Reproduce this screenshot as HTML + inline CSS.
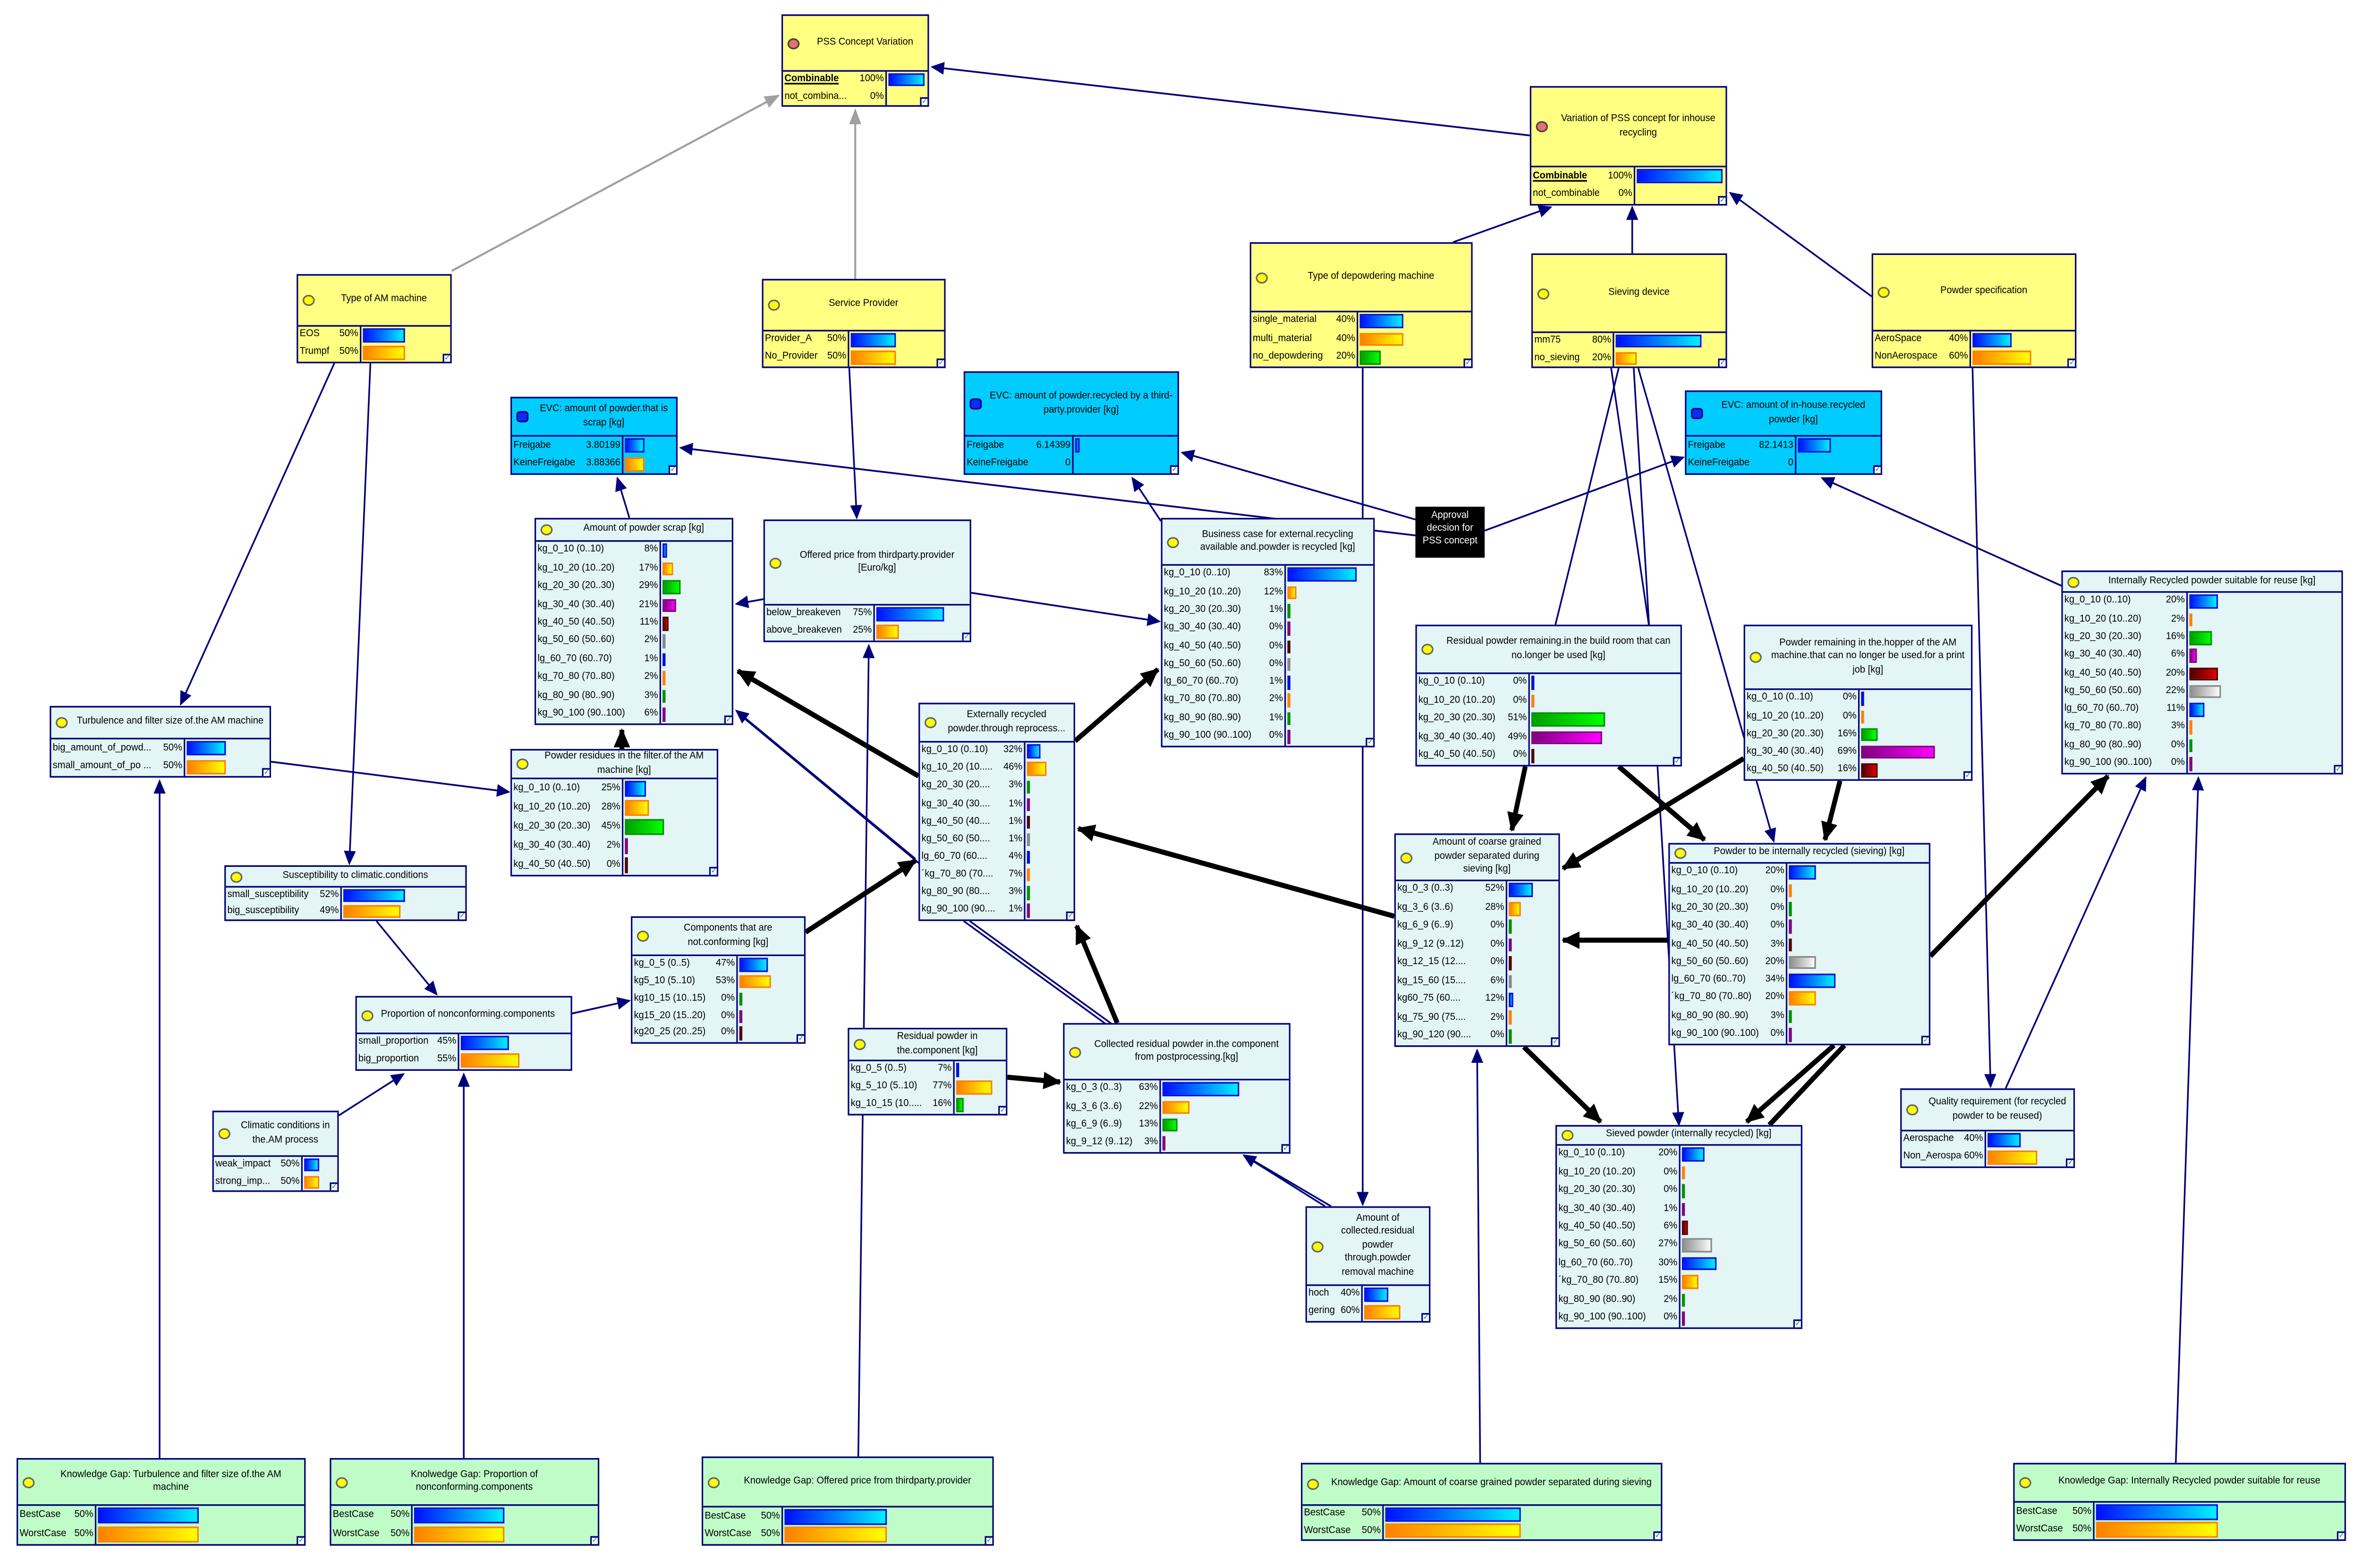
<!DOCTYPE html>
<html><head><meta charset="utf-8"><style>
html,body{margin:0;padding:0;background:#fff;width:100%;height:100%;overflow:hidden}
#s{position:absolute;left:0;top:0;width:100vw;height:100vh;display:block}
#w{position:relative;width:1568px;height:984px}
.n{position:absolute;box-sizing:border-box;border:1.2px solid #00007a;background:#e3f5f5;display:flex;flex-direction:column;font-family:"Liberation Sans",sans-serif;font-size:6.3px;color:#000;line-height:1.35}
.n.y{background:#ffff82}.n.c{background:#00ccff}.n.g{background:#c0fcc8}
.h{height:var(--h);flex:none;box-sizing:border-box;border-bottom:1.6px solid #00007a;display:flex;align-items:center;justify-content:center;text-align:center;padding:0 3px 0 16px;position:relative;overflow:hidden}
.h::before{content:"";position:absolute;left:3px;top:50%;margin-top:-3.5px;width:8px;height:7px;border-radius:50%;background:#ffff00;border:0.6px solid #666;box-sizing:border-box}
.h.r::before{background:#e87070;border-color:#444}
.h.x::before{background:#0a2cff;border-radius:30%;border-color:#00007a}
.b{flex:1;display:flex;flex-direction:column;position:relative}
.n p{margin:0;flex:1;display:flex;align-items:center;min-height:0}
.n p span{width:var(--d);flex:none;box-sizing:border-box;display:flex;justify-content:space-between;align-items:center;padding:0 1px 0 1px;white-space:nowrap;overflow:hidden;border-right:1.5px solid #00007a;height:100%}
.n p span i{font-style:normal;overflow:hidden}
.n p span b{font-weight:normal;padding-left:1px}
.n p em{flex:1;height:100%;display:flex;align-items:center;padding:0 2px 0 0.5px;box-sizing:border-box}
.n p em u{display:block;height:76%;min-width:1px;box-sizing:border-box;border:1px solid}
.c0{background:linear-gradient(90deg,#0010ff,#00f0ff);border-color:#0010e0!important}
.c1{background:linear-gradient(90deg,#ff8000,#ffff00);border-color:#ff8000!important}
.c2{background:linear-gradient(90deg,#00a000,#00ff00);border-color:#009000!important}
.c3{background:linear-gradient(90deg,#800080,#ff00ff);border-color:#800080!important}
.c4{background:linear-gradient(90deg,#500000,#e00000);border-color:#500000!important}
.c5{background:linear-gradient(90deg,#909090,#fafafa);border-color:#888!important}
.ck{position:absolute;right:-1px;bottom:-1px;width:6px;height:6px;background:#fff;border:0.8px solid #00007a;box-sizing:border-box;font-size:5px;line-height:5px;color:#088;text-align:center}
.ap{position:absolute;left:940px;top:318px;width:46px;height:32px;background:#000;color:#fff;font-family:"Liberation Sans",sans-serif;font-size:6.3px;text-align:center;line-height:1.3;padding-top:2px;box-sizing:border-box}
</style></head><body>
<svg id="s" viewBox="0 0 1568 984" preserveAspectRatio="none">
<defs>
<marker id="an" markerUnits="userSpaceOnUse" markerWidth="9" markerHeight="8" refX="8" refY="4" orient="auto"><path d="M0,0 L9,4 L0,8 z" fill="#00007a"/></marker>
<marker id="ag" markerUnits="userSpaceOnUse" markerWidth="10" markerHeight="8" refX="9" refY="4" orient="auto"><path d="M0,0 L10,4 L0,8 z" fill="#a0a0a0"/></marker>
<marker id="ab" markerUnits="userSpaceOnUse" markerWidth="12" markerHeight="11" refX="11" refY="5.5" orient="auto"><path d="M0,0 L12,5.5 L0,11 z" fill="#000"/></marker>
</defs>
<g stroke="#a0a0a0" stroke-width="1.3" fill="none">
<line x1="300" y1="170" x2="517" y2="60" marker-end="url(#ag)"/>
<line x1="568" y1="175" x2="568" y2="69" marker-end="url(#ag)"/>
</g>
<g stroke="#00007a" stroke-width="1.1" fill="none">
<line x1="1016" y1="85" x2="619" y2="42" marker-end="url(#an)"/>
<line x1="965" y1="152" x2="1030" y2="130" marker-end="url(#an)"/>
<line x1="1084" y1="159" x2="1084" y2="130" marker-end="url(#an)"/>
<line x1="1243" y1="186" x2="1149" y2="121" marker-end="url(#an)"/>
<line x1="222" y1="228" x2="120" y2="442" marker-end="url(#an)"/>
<line x1="246" y1="228" x2="232" y2="542" marker-end="url(#an)"/>
<line x1="564" y1="231" x2="569" y2="325" marker-end="url(#an)"/>
<line x1="905" y1="231" x2="905" y2="756" marker-end="url(#an)"/>
<line x1="1075" y1="231" x2="1033" y2="392"/>
<line x1="1070" y1="231" x2="1095" y2="392"/>
<line x1="1085" y1="231" x2="1115" y2="706" marker-end="url(#an)"/>
<line x1="1088" y1="231" x2="1178" y2="528" marker-end="url(#an)"/>
<line x1="1310" y1="231" x2="1322" y2="682" marker-end="url(#an)"/>
<line x1="1332" y1="683" x2="1425" y2="488" marker-end="url(#an)"/>
<line x1="940" y1="336" x2="452" y2="281" marker-end="url(#an)"/>
<line x1="940" y1="326" x2="785" y2="284" marker-end="url(#an)"/>
<line x1="986" y1="333" x2="1118" y2="287" marker-end="url(#an)"/>
<line x1="771" y1="327" x2="752" y2="300" marker-end="url(#an)"/>
<line x1="418" y1="325" x2="410" y2="300" marker-end="url(#an)"/>
<line x1="1370" y1="368" x2="1210" y2="300" marker-end="url(#an)"/>
<line x1="507" y1="376" x2="489" y2="379" marker-end="url(#an)"/>
<line x1="645" y1="372" x2="770" y2="390" marker-end="url(#an)"/>
<line x1="180" y1="478" x2="338" y2="497" marker-end="url(#an)"/>
<line x1="380" y1="636" x2="418" y2="628" marker-end="url(#an)"/>
<line x1="250" y1="578" x2="290" y2="624" marker-end="url(#an)"/>
<line x1="225" y1="700" x2="268" y2="674" marker-end="url(#an)"/>
<line x1="570" y1="914" x2="577" y2="405" marker-end="url(#an)"/>
<line x1="308" y1="915" x2="308" y2="674" marker-end="url(#an)"/>
<line x1="106" y1="915" x2="106" y2="490" marker-end="url(#an)"/>
<line x1="983" y1="918" x2="981" y2="659" marker-end="url(#an)"/>
<line x1="1445" y1="918" x2="1460" y2="488" marker-end="url(#an)"/>
<line x1="608" y1="539" x2="489" y2="446" marker-end="url(#an)"/>
<line x1="612" y1="543" x2="492" y2="449"/>
<line x1="640" y1="578" x2="735" y2="643"/>
<line x1="644" y1="578" x2="739" y2="643"/>
<line x1="880" y1="757" x2="826" y2="725" marker-end="url(#an)"/>
<line x1="884" y1="757" x2="830" y2="727"/>
</g>
<g stroke="#000" stroke-width="3.2" fill="none">
<line x1="413" y1="470" x2="413" y2="458" marker-end="url(#ab)"/>
<line x1="610" y1="487" x2="490" y2="421" marker-end="url(#ab)"/>
<line x1="714" y1="465" x2="769" y2="420" marker-end="url(#ab)"/>
<line x1="535" y1="585" x2="608" y2="540" marker-end="url(#ab)"/>
<line x1="669" y1="676" x2="704" y2="679" marker-end="url(#ab)"/>
<line x1="742" y1="642" x2="715" y2="581" marker-end="url(#ab)"/>
<line x1="1013" y1="481" x2="1004" y2="521" marker-end="url(#ab)"/>
<line x1="1075" y1="481" x2="1132" y2="527" marker-end="url(#ab)"/>
<line x1="1222" y1="490" x2="1212" y2="527" marker-end="url(#ab)"/>
<line x1="1158" y1="476" x2="1038" y2="545" marker-end="url(#ab)"/>
<line x1="926" y1="575" x2="716" y2="520" marker-end="url(#ab)"/>
<line x1="1108" y1="590" x2="1038" y2="590" marker-end="url(#ab)"/>
<line x1="1282" y1="600" x2="1400" y2="487" marker-end="url(#ab)"/>
<line x1="1012" y1="657" x2="1063" y2="704" marker-end="url(#ab)"/>
<line x1="1218" y1="656" x2="1160" y2="704" marker-end="url(#ab)"/>
<line x1="1225" y1="656" x2="1175" y2="706"/>
</g>
<foreignObject x="0" y="0" width="1568" height="984">
<div id="w" xmlns="http://www.w3.org/1999/xhtml">

<div class="n y" style="left:519px;top:9px;width:98px;height:58px;--h:35px;--d:69px"><div class="h r">PSS Concept Variation</div><div class="b">
<p><span><i><b style="font-weight:bold;text-decoration:underline;padding:0">Combinable</b></i><b>100%</b></span><em><u class="c0" style="width:100%"></u></em></p>
<p><span><i>not_combina...</i><b>0%</b></span><em></em></p><div class="ck">✓</div></div></div>

<div class="n y" style="left:1016px;top:54px;width:131px;height:75px;--h:50px;--d:69px"><div class="h r">Variation of PSS concept for inhouse recycling</div><div class="b">
<p><span><i><b style="font-weight:bold;text-decoration:underline;padding:0">Combinable</b></i><b>100%</b></span><em><u class="c0" style="width:100%"></u></em></p>
<p><span><i>not_combinable</i><b>0%</b></span><em></em></p><div class="ck">✓</div></div></div>

<div class="n y" style="left:197px;top:172px;width:103px;height:56px;--h:32px;--d:42px"><div class="h">Type of AM machine</div><div class="b">
<p><span><i>EOS</i><b>50%</b></span><em><u class="c0" style="width:50%"></u></em></p>
<p><span><i>Trumpf</i><b>50%</b></span><em><u class="c1" style="width:50%"></u></em></p><div class="ck">✓</div></div></div>

<div class="n y" style="left:506px;top:175px;width:122px;height:56px;--h:32px;--d:57px"><div class="h">Service Provider</div><div class="b">
<p><span><i>Provider_A</i><b>50%</b></span><em><u class="c0" style="width:50%"></u></em></p>
<p><span><i>No_Provider</i><b>50%</b></span><em><u class="c1" style="width:50%"></u></em></p><div class="ck">✓</div></div></div>

<div class="n y" style="left:830px;top:152px;width:148px;height:79px;--h:43px;--d:71px"><div class="h">Type of depowdering machine</div><div class="b">
<p><span><i>single_material</i><b>40%</b></span><em><u class="c0" style="width:40%"></u></em></p>
<p><span><i>multi_material</i><b>40%</b></span><em><u class="c1" style="width:40%"></u></em></p>
<p><span><i>no_depowdering</i><b>20%</b></span><em><u class="c2" style="width:20%"></u></em></p><div class="ck">✓</div></div></div>

<div class="n y" style="left:1017px;top:159px;width:130px;height:72px;--h:49px;--d:54px"><div class="h">Sieving device</div><div class="b">
<p><span><i>mm75</i><b>80%</b></span><em><u class="c0" style="width:80%"></u></em></p>
<p><span><i>no_sieving</i><b>20%</b></span><em><u class="c1" style="width:20%"></u></em></p><div class="ck">✓</div></div></div>

<div class="n y" style="left:1243px;top:159px;width:136px;height:72px;--h:48px;--d:65px"><div class="h">Powder specification</div><div class="b">
<p><span><i>AeroSpace</i><b>40%</b></span><em><u class="c0" style="width:40%"></u></em></p>
<p><span><i>NonAerospace</i><b>60%</b></span><em><u class="c1" style="width:60%"></u></em></p><div class="ck">✓</div></div></div>

<div class="n c" style="left:339px;top:249px;width:111px;height:49px;--h:24px;--d:74px"><div class="h x">EVC: amount of powder.that is scrap [kg]</div><div class="b">
<p><span><i>Freigabe</i><b>3.80199</b></span><em><u class="c0" style="width:40%"></u></em></p>
<p><span><i>KeineFreigabe</i><b>3.88366</b></span><em><u class="c1" style="width:40%"></u></em></p><div class="ck">✓</div></div></div>

<div class="n c" style="left:640px;top:233px;width:143px;height:65px;--h:40px;--d:72px"><div class="h x">EVC: amount of powder.recycled by a third-party.provider [kg]</div><div class="b">
<p><span><i>Freigabe</i><b>6.14399</b></span><em><u class="c0" style="width:5%"></u></em></p>
<p><span><i>KeineFreigabe</i><b>0</b></span><em></em></p><div class="ck">✓</div></div></div>

<div class="n c" style="left:1119px;top:245px;width:131px;height:53px;--h:28px;--d:73px"><div class="h x">EVC: amount of in-house.recycled powder [kg]</div><div class="b">
<p><span><i>Freigabe</i><b>82.1413</b></span><em><u class="c0" style="width:42%"></u></em></p>
<p><span><i>KeineFreigabe</i><b>0</b></span><em></em></p><div class="ck">✓</div></div></div>

<div class="ap">Approval<br/>decsion for<br/>PSS concept</div>

<div class="n" style="left:355px;top:325px;width:132px;height:130px;--h:14px;--d:83px"><div class="h">Amount of powder scrap [kg]</div><div class="b">
<p><span><i>kg_0_10 (0..10)</i><b>8%</b></span><em><u class="c0" style="width:8%"></u></em></p>
<p><span><i>kg_10_20 (10..20)</i><b>17%</b></span><em><u class="c1" style="width:17%"></u></em></p>
<p><span><i>kg_20_30 (20..30)</i><b>29%</b></span><em><u class="c2" style="width:29%"></u></em></p>
<p><span><i>kg_30_40 (30..40)</i><b>21%</b></span><em><u class="c3" style="width:21%"></u></em></p>
<p><span><i>kg_40_50 (40..50)</i><b>11%</b></span><em><u class="c4" style="width:11%"></u></em></p>
<p><span><i>kg_50_60 (50..60)</i><b>2%</b></span><em><u class="c5" style="width:2%"></u></em></p>
<p><span><i>lg_60_70 (60..70)</i><b>1%</b></span><em><u class="c0" style="width:1%"></u></em></p>
<p><span><i>kg_70_80 (70..80)</i><b>2%</b></span><em><u class="c1" style="width:2%"></u></em></p>
<p><span><i>kg_80_90 (80..90)</i><b>3%</b></span><em><u class="c2" style="width:3%"></u></em></p>
<p><span><i>kg_90_100 (90..100)</i><b>6%</b></span><em><u class="c3" style="width:6%"></u></em></p><div class="ck">✓</div></div></div>

<div class="n" style="left:507px;top:326px;width:138px;height:77px;--h:53px;--d:73px"><div class="h">Offered price from thirdparty.provider [Euro/kg]</div><div class="b">
<p><span><i>below_breakeven</i><b>75%</b></span><em><u class="c0" style="width:75%"></u></em></p>
<p><span><i>above_breakeven</i><b>25%</b></span><em><u class="c1" style="width:25%"></u></em></p><div class="ck">✓</div></div></div>

<div class="n" style="left:771px;top:325px;width:142px;height:144px;--h:29px;--d:82px"><div class="h">Business case for external.recycling available and.powder is recycled [kg]</div><div class="b">
<p><span><i>kg_0_10 (0..10)</i><b>83%</b></span><em><u class="c0" style="width:83%"></u></em></p>
<p><span><i>kg_10_20 (10..20)</i><b>12%</b></span><em><u class="c1" style="width:12%"></u></em></p>
<p><span><i>kg_20_30 (20..30)</i><b>1%</b></span><em><u class="c2" style="width:1%"></u></em></p>
<p><span><i>kg_30_40 (30..40)</i><b>0%</b></span><em><u class="c3" style="width:0"></u></em></p>
<p><span><i>kg_40_50 (40..50)</i><b>0%</b></span><em><u class="c4" style="width:0"></u></em></p>
<p><span><i>kg_50_60 (50..60)</i><b>0%</b></span><em><u class="c5" style="width:0"></u></em></p>
<p><span><i>lg_60_70 (60..70)</i><b>1%</b></span><em><u class="c0" style="width:1%"></u></em></p>
<p><span><i>kg_70_80 (70..80)</i><b>2%</b></span><em><u class="c1" style="width:2%"></u></em></p>
<p><span><i>kg_80_90 (80..90)</i><b>1%</b></span><em><u class="c2" style="width:1%"></u></em></p>
<p><span><i>kg_90_100 (90..100)</i><b>0%</b></span><em><u class="c3" style="width:0"></u></em></p><div class="ck">✓</div></div></div>

<div class="n" style="left:33px;top:443px;width:147px;height:45px;--h:20px;--d:89px"><div class="h">Turbulence and filter size of.the AM machine</div><div class="b">
<p><span><i>big_amount_of_powd...</i><b>50%</b></span><em><u class="c0" style="width:50%"></u></em></p>
<p><span><i>small_amount_of_po ...</i><b>50%</b></span><em><u class="c1" style="width:50%"></u></em></p><div class="ck">✓</div></div></div>

<div class="n" style="left:339px;top:470px;width:138px;height:80px;--h:18px;--d:74px"><div class="h">Powder residues in the filter.of the AM machine [kg]</div><div class="b">
<p><span><i>kg_0_10 (0..10)</i><b>25%</b></span><em><u class="c0" style="width:25%"></u></em></p>
<p><span><i>kg_10_20 (10..20)</i><b>28%</b></span><em><u class="c1" style="width:28%"></u></em></p>
<p><span><i>kg_20_30 (20..30)</i><b>45%</b></span><em><u class="c2" style="width:45%"></u></em></p>
<p><span><i>kg_30_40 (30..40)</i><b>2%</b></span><em><u class="c3" style="width:2%"></u></em></p>
<p><span><i>kg_40_50 (40..50)</i><b>0%</b></span><em><u class="c4" style="width:0"></u></em></p><div class="ck">✓</div></div></div>

<div class="n" style="left:610px;top:441px;width:104px;height:137px;--h:24px;--d:70px"><div class="h">Externally recycled powder.through reprocess...</div><div class="b">
<p><span><i>kg_0_10 (0..10)</i><b>32%</b></span><em><u class="c0" style="width:32%"></u></em></p>
<p><span><i>kg_10_20 (10.....</i><b>46%</b></span><em><u class="c1" style="width:46%"></u></em></p>
<p><span><i>kg_20_30 (20....</i><b>3%</b></span><em><u class="c2" style="width:3%"></u></em></p>
<p><span><i>kg_30_40 (30....</i><b>1%</b></span><em><u class="c3" style="width:1%"></u></em></p>
<p><span><i>kg_40_50 (40....</i><b>1%</b></span><em><u class="c4" style="width:1%"></u></em></p>
<p><span><i>kg_50_60 (50....</i><b>1%</b></span><em><u class="c5" style="width:1%"></u></em></p>
<p><span><i>lg_60_70 (60....</i><b>4%</b></span><em><u class="c0" style="width:4%"></u></em></p>
<p><span><i>´kg_70_80 (70....</i><b>7%</b></span><em><u class="c1" style="width:7%"></u></em></p>
<p><span><i>kg_80_90 (80....</i><b>3%</b></span><em><u class="c2" style="width:3%"></u></em></p>
<p><span><i>kg_90_100 (90....</i><b>1%</b></span><em><u class="c3" style="width:1%"></u></em></p><div class="ck">✓</div></div></div>

<div class="n" style="left:149px;top:543px;width:161px;height:35px;--h:13px;--d:77px"><div class="h">Susceptibility to climatic.conditions</div><div class="b">
<p><span><i>small_susceptibility</i><b>52%</b></span><em><u class="c0" style="width:52%"></u></em></p>
<p><span><i>big_susceptibility</i><b>49%</b></span><em><u class="c1" style="width:49%"></u></em></p><div class="ck">✓</div></div></div>

<div class="n" style="left:236px;top:625px;width:144px;height:47px;--h:23px;--d:68px"><div class="h" style="justify-content:flex-start">Proportion of nonconforming.components</div><div class="b">
<p><span><i>small_proportion</i><b>45%</b></span><em><u class="c0" style="width:45%"></u></em></p>
<p><span><i>big_proportion</i><b>55%</b></span><em><u class="c1" style="width:55%"></u></em></p></div></div>

<div class="n" style="left:419px;top:575px;width:116px;height:80px;--h:24px;--d:70px"><div class="h">Components that are not.conforming [kg]</div><div class="b">
<p><span><i>kg_0_5 (0..5)</i><b>47%</b></span><em><u class="c0" style="width:47%"></u></em></p>
<p><span><i>kg5_10 (5..10)</i><b>53%</b></span><em><u class="c1" style="width:53%"></u></em></p>
<p><span><i>kg10_15 (10..15)</i><b>0%</b></span><em><u class="c2" style="width:0"></u></em></p>
<p><span><i>kg15_20 (15..20)</i><b>0%</b></span><em><u class="c3" style="width:0"></u></em></p>
<p><span><i>kg20_25 (20..25)</i><b>0%</b></span><em><u class="c4" style="width:0"></u></em></p><div class="ck">✓</div></div></div>

<div class="n" style="left:141px;top:697px;width:84px;height:51px;--h:28px;--d:59px"><div class="h">Climatic conditions in the.AM process</div><div class="b">
<p><span><i>weak_impact</i><b>50%</b></span><em><u class="c0" style="width:50%"></u></em></p>
<p><span><i>strong_imp...</i><b>50%</b></span><em><u class="c1" style="width:50%"></u></em></p><div class="ck">✓</div></div></div>

<div class="n" style="left:563px;top:645px;width:106px;height:55px;--h:20px;--d:70px"><div class="h">Residual powder in the.component [kg]</div><div class="b">
<p><span><i>kg_0_5 (0..5)</i><b>7%</b></span><em><u class="c0" style="width:7%"></u></em></p>
<p><span><i>kg_5_10 (5..10)</i><b>77%</b></span><em><u class="c1" style="width:77%"></u></em></p>
<p><span><i>kg_10_15 (10.....</i><b>16%</b></span><em><u class="c2" style="width:16%"></u></em></p><div class="ck">✓</div></div></div>

<div class="n" style="left:706px;top:642px;width:151px;height:82px;--h:35px;--d:64px"><div class="h">Collected residual powder in.the component from postprocessing.[kg]</div><div class="b">
<p><span><i>kg_0_3 (0..3)</i><b>63%</b></span><em><u class="c0" style="width:63%"></u></em></p>
<p><span><i>kg_3_6 (3..6)</i><b>22%</b></span><em><u class="c1" style="width:22%"></u></em></p>
<p><span><i>kg_6_9 (6..9)</i><b>13%</b></span><em><u class="c2" style="width:13%"></u></em></p>
<p><span><i>kg_9_12 (9..12)</i><b>3%</b></span><em><u class="c3" style="width:3%"></u></em></p><div class="ck">✓</div></div></div>

<div class="n" style="left:867px;top:757px;width:83px;height:73px;--h:49px;--d:37px"><div class="h">Amount of collected.residual powder through.powder removal machine</div><div class="b">
<p><span><i>hoch</i><b>40%</b></span><em><u class="c0" style="width:40%"></u></em></p>
<p><span><i>gering</i><b>60%</b></span><em><u class="c1" style="width:60%"></u></em></p><div class="ck">✓</div></div></div>

<div class="n" style="left:940px;top:392px;width:177px;height:89px;--h:30px;--d:75px"><div class="h">Residual powder remaining.in the build room that can no.longer be used [kg]</div><div class="b">
<p><span><i>kg_0_10 (0..10)</i><b>0%</b></span><em><u class="c0" style="width:0"></u></em></p>
<p><span><i>kg_10_20 (10..20)</i><b>0%</b></span><em><u class="c1" style="width:0"></u></em></p>
<p><span><i>kg_20_30 (20..30)</i><b>51%</b></span><em><u class="c2" style="width:51%"></u></em></p>
<p><span><i>kg_30_40 (30..40)</i><b>49%</b></span><em><u class="c3" style="width:49%"></u></em></p>
<p><span><i>kg_40_50 (40..50)</i><b>0%</b></span><em><u class="c4" style="width:0"></u></em></p><div class="ck">✓</div></div></div>

<div class="n" style="left:1158px;top:392px;width:152px;height:98px;--h:40px;--d:76px"><div class="h">Powder remaining in the.hopper of the AM machine.that can no longer be used.for a print job [kg]</div><div class="b">
<p><span><i>kg_0_10 (0..10)</i><b>0%</b></span><em><u class="c0" style="width:0"></u></em></p>
<p><span><i>kg_10_20 (10..20)</i><b>0%</b></span><em><u class="c1" style="width:0"></u></em></p>
<p><span><i>kg_20_30 (20..30)</i><b>16%</b></span><em><u class="c2" style="width:16%"></u></em></p>
<p><span><i>kg_30_40 (30..40)</i><b>69%</b></span><em><u class="c3" style="width:69%"></u></em></p>
<p><span><i>kg_40_50 (40..50)</i><b>16%</b></span><em><u class="c4" style="width:16%"></u></em></p><div class="ck">✓</div></div></div>

<div class="n" style="left:1369px;top:358px;width:187px;height:128px;--h:13px;--d:83px"><div class="h">Internally Recycled powder suitable for reuse [kg]</div><div class="b">
<p><span><i>kg_0_10 (0..10)</i><b>20%</b></span><em><u class="c0" style="width:20%"></u></em></p>
<p><span><i>kg_10_20 (10..20)</i><b>2%</b></span><em><u class="c1" style="width:2%"></u></em></p>
<p><span><i>kg_20_30 (20..30)</i><b>16%</b></span><em><u class="c2" style="width:16%"></u></em></p>
<p><span><i>kg_30_40 (30..40)</i><b>6%</b></span><em><u class="c3" style="width:6%"></u></em></p>
<p><span><i>kg_40_50 (40..50)</i><b>20%</b></span><em><u class="c4" style="width:20%"></u></em></p>
<p><span><i>kg_50_60 (50..60)</i><b>22%</b></span><em><u class="c5" style="width:22%"></u></em></p>
<p><span><i>lg_60_70 (60..70)</i><b>11%</b></span><em><u class="c0" style="width:11%"></u></em></p>
<p><span><i>kg_70_80 (70..80)</i><b>3%</b></span><em><u class="c1" style="width:3%"></u></em></p>
<p><span><i>kg_80_90 (80..90)</i><b>0%</b></span><em><u class="c2" style="width:0"></u></em></p>
<p><span><i>kg_90_100 (90..100)</i><b>0%</b></span><em><u class="c3" style="width:0"></u></em></p><div class="ck">✓</div></div></div>

<div class="n" style="left:926px;top:523px;width:110px;height:134px;--h:29px;--d:74px"><div class="h">Amount of coarse grained powder separated during sieving [kg]</div><div class="b">
<p><span><i>kg_0_3 (0..3)</i><b>52%</b></span><em><u class="c0" style="width:52%"></u></em></p>
<p><span><i>kg_3_6 (3..6)</i><b>28%</b></span><em><u class="c1" style="width:28%"></u></em></p>
<p><span><i>kg_6_9 (6..9)</i><b>0%</b></span><em><u class="c2" style="width:0"></u></em></p>
<p><span><i>kg_9_12 (9..12)</i><b>0%</b></span><em><u class="c3" style="width:0"></u></em></p>
<p><span><i>kg_12_15 (12....</i><b>0%</b></span><em><u class="c4" style="width:0"></u></em></p>
<p><span><i>kg_15_60 (15....</i><b>6%</b></span><em><u class="c5" style="width:6%"></u></em></p>
<p><span><i>kg60_75 (60....</i><b>12%</b></span><em><u class="c0" style="width:12%"></u></em></p>
<p><span><i>kg_75_90 (75....</i><b>2%</b></span><em><u class="c1" style="width:2%"></u></em></p>
<p><span><i>kg_90_120 (90....</i><b>0%</b></span><em><u class="c2" style="width:0"></u></em></p><div class="ck">✓</div></div></div>

<div class="n" style="left:1108px;top:529px;width:174px;height:127px;--h:12px;--d:78px"><div class="h">Powder to be internally recycled (sieving) [kg]</div><div class="b">
<p><span><i>kg_0_10 (0..10)</i><b>20%</b></span><em><u class="c0" style="width:20%"></u></em></p>
<p><span><i>kg_10_20 (10..20)</i><b>0%</b></span><em><u class="c1" style="width:0"></u></em></p>
<p><span><i>kg_20_30 (20..30)</i><b>0%</b></span><em><u class="c2" style="width:0"></u></em></p>
<p><span><i>kg_30_40 (30..40)</i><b>0%</b></span><em><u class="c3" style="width:0"></u></em></p>
<p><span><i>kg_40_50 (40..50)</i><b>3%</b></span><em><u class="c4" style="width:3%"></u></em></p>
<p><span><i>kg_50_60 (50..60)</i><b>20%</b></span><em><u class="c5" style="width:20%"></u></em></p>
<p><span><i>lg_60_70 (60..70)</i><b>34%</b></span><em><u class="c0" style="width:34%"></u></em></p>
<p><span><i>´kg_70_80 (70..80)</i><b>20%</b></span><em><u class="c1" style="width:20%"></u></em></p>
<p><span><i>kg_80_90 (80..90)</i><b>3%</b></span><em><u class="c2" style="width:3%"></u></em></p>
<p><span><i>kg_90_100 (90..100)</i><b>0%</b></span><em><u class="c3" style="width:0"></u></em></p><div class="ck">✓</div></div></div>

<div class="n" style="left:1033px;top:706px;width:164px;height:128px;--h:12px;--d:82px"><div class="h">Sieved powder (internally recycled) [kg]</div><div class="b">
<p><span><i>kg_0_10 (0..10)</i><b>20%</b></span><em><u class="c0" style="width:20%"></u></em></p>
<p><span><i>kg_10_20 (10..20)</i><b>0%</b></span><em><u class="c1" style="width:0"></u></em></p>
<p><span><i>kg_20_30 (20..30)</i><b>0%</b></span><em><u class="c2" style="width:0"></u></em></p>
<p><span><i>kg_30_40 (30..40)</i><b>1%</b></span><em><u class="c3" style="width:1%"></u></em></p>
<p><span><i>kg_40_50 (40..50)</i><b>6%</b></span><em><u class="c4" style="width:6%"></u></em></p>
<p><span><i>kg_50_60 (50..60)</i><b>27%</b></span><em><u class="c5" style="width:27%"></u></em></p>
<p><span><i>lg_60_70 (60..70)</i><b>30%</b></span><em><u class="c0" style="width:30%"></u></em></p>
<p><span><i>´kg_70_80 (70..80)</i><b>15%</b></span><em><u class="c1" style="width:15%"></u></em></p>
<p><span><i>kg_80_90 (80..90)</i><b>2%</b></span><em><u class="c2" style="width:2%"></u></em></p>
<p><span><i>kg_90_100 (90..100)</i><b>0%</b></span><em><u class="c3" style="width:0"></u></em></p><div class="ck">✓</div></div></div>

<div class="n" style="left:1262px;top:683px;width:116px;height:50px;--h:26px;--d:56px"><div class="h">Quality requirement (for recycled powder to be reused)</div><div class="b">
<p><span><i>Aerospache</i><b>40%</b></span><em><u class="c0" style="width:40%"></u></em></p>
<p><span><i>Non_Aerospache</i><b>60%</b></span><em><u class="c1" style="width:60%"></u></em></p><div class="ck">✓</div></div></div>

<div class="n g" style="left:11px;top:915px;width:192px;height:55px;--h:29px;--d:52px"><div class="h">Knowledge Gap: Turbulence and filter size of.the AM machine</div><div class="b">
<p><span><i>BestCase</i><b>50%</b></span><em><u class="c0" style="width:50%;height:88%"></u></em></p>
<p><span><i>WorstCase</i><b>50%</b></span><em><u class="c1" style="width:50%;height:88%"></u></em></p><div class="ck">✓</div></div></div>

<div class="n g" style="left:219px;top:915px;width:179px;height:55px;--h:29px;--d:54px"><div class="h">Knolwedge Gap: Proportion of nonconforming.components</div><div class="b">
<p><span><i>BestCase</i><b>50%</b></span><em><u class="c0" style="width:50%;height:88%"></u></em></p>
<p><span><i>WorstCase</i><b>50%</b></span><em><u class="c1" style="width:50%;height:88%"></u></em></p><div class="ck">✓</div></div></div>

<div class="n g" style="left:466px;top:914px;width:194px;height:56px;--h:31px;--d:53px"><div class="h">Knowledge Gap: Offered price from thirdparty.provider</div><div class="b">
<p><span><i>BestCase</i><b>50%</b></span><em><u class="c0" style="width:50%;height:88%"></u></em></p>
<p><span><i>WorstCase</i><b>50%</b></span><em><u class="c1" style="width:50%;height:88%"></u></em></p><div class="ck">✓</div></div></div>

<div class="n g" style="left:864px;top:918px;width:240px;height:49px;--h:26px;--d:54px"><div class="h">Knowledge Gap: Amount of coarse grained powder separated during sieving</div><div class="b">
<p><span><i>BestCase</i><b>50%</b></span><em><u class="c0" style="width:50%;height:88%"></u></em></p>
<p><span><i>WorstCase</i><b>50%</b></span><em><u class="c1" style="width:50%;height:88%"></u></em></p><div class="ck">✓</div></div></div>

<div class="n g" style="left:1337px;top:918px;width:221px;height:49px;--h:24px;--d:53px"><div class="h">Knowledge Gap: Internally Recycled powder suitable for reuse</div><div class="b">
<p><span><i>BestCase</i><b>50%</b></span><em><u class="c0" style="width:50%;height:88%"></u></em></p>
<p><span><i>WorstCase</i><b>50%</b></span><em><u class="c1" style="width:50%;height:88%"></u></em></p><div class="ck">✓</div></div></div>

</div>
</foreignObject>
</svg>
</body></html>
